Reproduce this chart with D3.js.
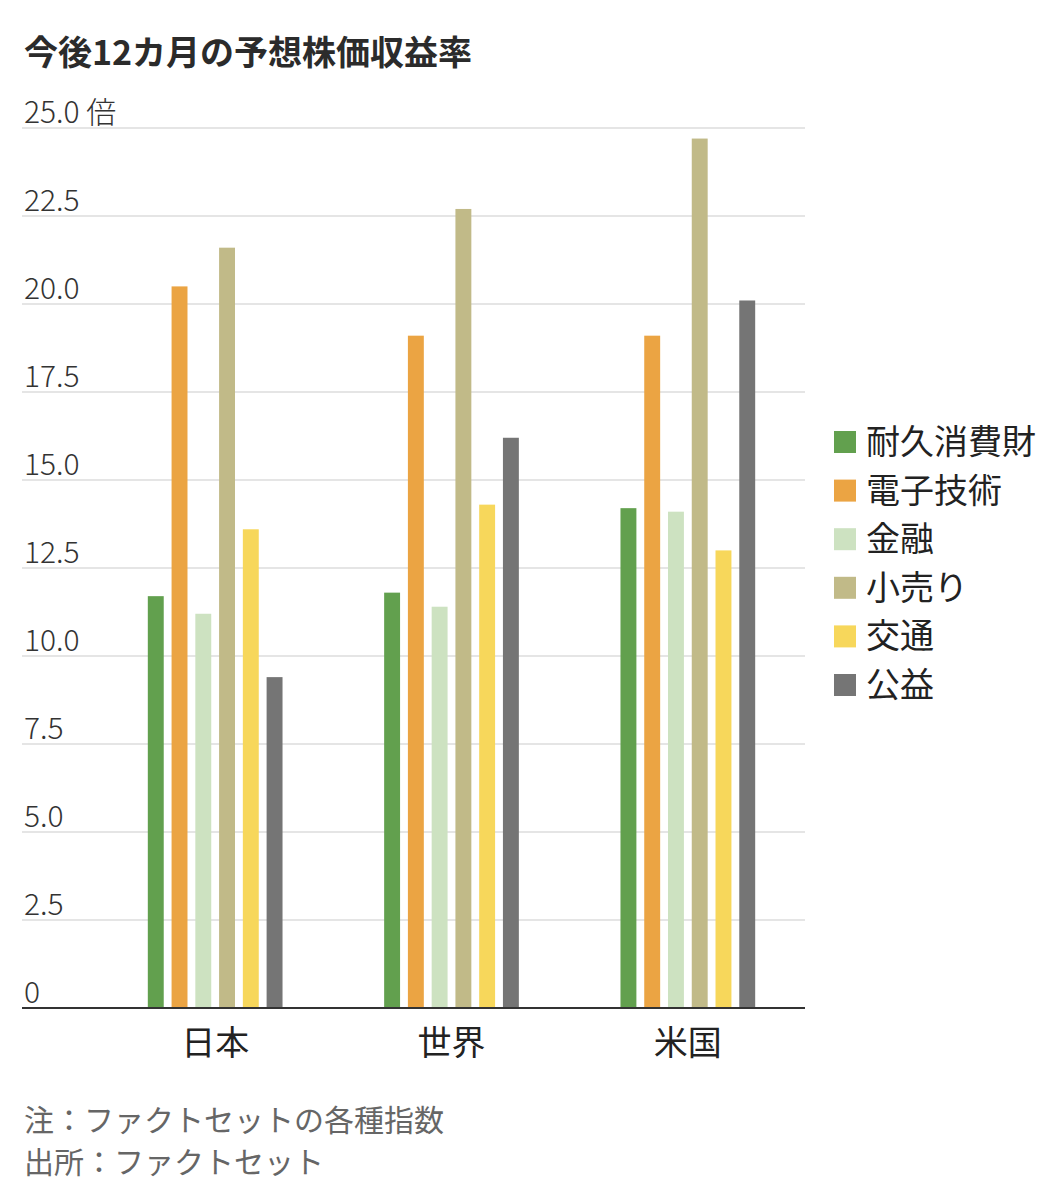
<!DOCTYPE html>
<html>
<head>
<meta charset="utf-8">
<script src="https://cdn.jsdelivr.net/npm/d3@7"></script>
<style>
  body { margin: 0; background: #fff; }
  svg text { font-family: "Noto Sans CJK JP", "Noto Sans", sans-serif; }
</style>
</head>
<body>
<div id="chart"></div>
<script>
// groups along the x axis
const groups = ["日本", "世界", "米国"];
// sectors (series)
const sectors = ["耐久消費財", "電子技術", "金融", "小売り", "交通", "公益"];
const colors = ["#62a04e", "#eba443", "#cde2c1", "#c1ba88", "#f7d75b", "#757575"];
// forward P/E per sector, in group order
const durables   = [11.7, 11.8, 14.2];
const electronic = [20.5, 19.1, 19.1];
const finance    = [11.2, 11.4, 14.1];
const retail     = [21.6, 22.7, 24.7];
const transport  = [13.6, 14.3, 13.0];
const utilities  = [9.4, 16.2, 20.1];
const yTicks = [0, 2.5, 5, 7.5, 10, 12.5, 15, 17.5, 20, 22.5, 25];

const series = [durables, electronic, finance, retail, transport, utilities];

const width = 1064;
const height = 1200;
const gridLeft = 22, gridRight = 805;

const svg = d3.select("#chart")
              .append("svg")
              .attr("width", width)
              .attr("height", height);

const y = d3.scaleLinear()
            .domain([0, 25])
            .range([1008, 128]);

const x0 = d3.scaleBand()
             .domain(groups)
             .range([97, 806])
             .paddingInner(0.43)
             .paddingOuter(0.215);

const x1 = d3.scaleBand()
             .domain(sectors)
             .range([0, x0.bandwidth()])
             .paddingInner(0.33);

const color = d3.scaleOrdinal().domain(sectors).range(colors);

// title
svg.append("text")
   .attr("x", 24)
   .attr("y", 65)
   .style("font-size", "34px")
   .style("font-weight", "bold")
   .style("fill", "#2b2b2b")
   .text("今後12カ月の予想株価収益率");

// gridlines + tick labels
const fmt = d3.format(".1f");
const grid = svg.append("g").attr("class", "grid");
grid.selectAll("line")
    .data(yTicks.filter(d => d > 0))
    .enter()
    .append("line")
    .attr("x1", gridLeft)
    .attr("x2", gridRight)
    .attr("y1", d => y(d))
    .attr("y2", d => y(d))
    .attr("stroke", "#e5e5e5")
    .attr("stroke-width", 2);

grid.selectAll("text")
    .data(yTicks)
    .enter()
    .append("text")
    .attr("x", 24)
    .attr("y", d => y(d) - 5)
    .style("font-size", "30px")
    .style("font-weight", 300)
    .style("fill", "#333")
    .text(d => d === 0 ? "0" : d === 25 ? fmt(d) + " 倍" : fmt(d));

// bars
const rows = [];
groups.forEach((g, gi) => {
  sectors.forEach((s, si) => rows.push({ group: g, sector: s, value: series[si][gi] }));
});

svg.append("g")
   .selectAll("rect")
   .data(rows)
   .enter()
   .append("rect")
   .attr("x", d => x0(d.group) + x1(d.sector))
   .attr("y", d => y(d.value))
   .attr("width", x1.bandwidth())
   .attr("height", d => y(0) - y(d.value))
   .attr("fill", d => color(d.sector));

// baseline
svg.append("line")
   .attr("x1", gridLeft)
   .attr("x2", gridRight)
   .attr("y1", y(0))
   .attr("y2", y(0))
   .attr("stroke", "#333")
   .attr("stroke-width", 2);

// x labels
svg.append("g")
   .selectAll("text")
   .data(groups)
   .enter()
   .append("text")
   .attr("x", d => x0(d) + x0.bandwidth() / 2)
   .attr("y", 1055)
   .style("font-size", "34px")
   .style("text-anchor", "middle")
   .style("fill", "#222")
   .text(d => d);

// legend
const legend = svg.append("g")
                  .selectAll("g")
                  .data(sectors)
                  .enter()
                  .append("g")
                  .attr("transform", (d, i) => `translate(834, ${442 + i * 48.6})`);

legend.append("rect")
      .attr("x", 0)
      .attr("y", -11)
      .attr("width", 22)
      .attr("height", 22)
      .attr("fill", d => color(d));

legend.append("text")
      .attr("x", 32)
      .attr("y", 12)
      .style("font-size", "34px")
      .style("fill", "#222")
      .text(d => d);

// notes
svg.append("text")
   .attr("x", 24)
   .attr("y", 1131)
   .style("font-size", "30px")
   .style("fill", "#666")
   .text("注：ファクトセットの各種指数");

svg.append("text")
   .attr("x", 24)
   .attr("y", 1173)
   .style("font-size", "30px")
   .style("fill", "#666")
   .text("出所：ファクトセット");
</script>
</body>
</html>
